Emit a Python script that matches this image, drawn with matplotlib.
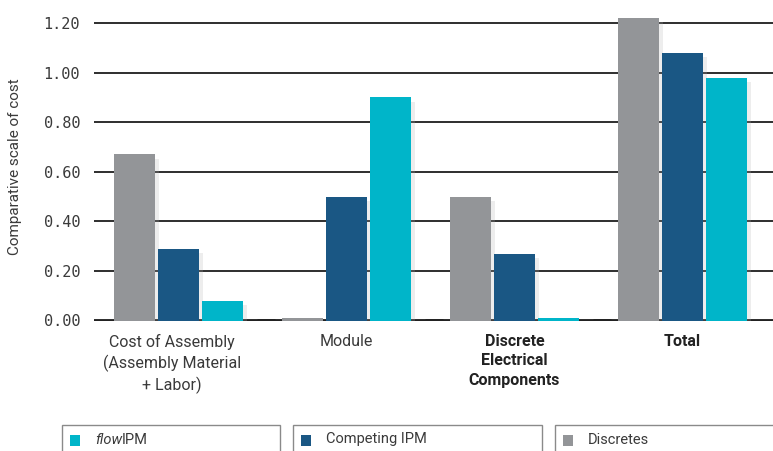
import matplotlib
matplotlib.use("Agg")
import matplotlib.pyplot as plt
import matplotlib.patheffects as pe
from matplotlib.patches import Rectangle
import numpy as np

categories = ["Cost of Assembly\n(Assembly Material\n+ Labor)", "Module",
              "Discrete\nElectrical\nComponents", "Total"]
bold_cats = [False, False, True, True]
series_names = ["Discretes", "Competing IPM", "flowIPM"]
discretes = [0.67, 0.01, 0.50, 1.22]
competing = [0.29, 0.50, 0.27, 1.08]
flowipm = [0.08, 0.90, 0.01, 0.98]
yticks = [0.0, 0.2, 0.4, 0.6, 0.8, 1.0, 1.2]
ytick_labels = ["0.00", "0.20", "0.40", "0.60", "0.80", "1.00", "1.20"]

GRAY = "#939598"
BLUE = "#1a5784"
CYAN = "#00b5c9"
TXT = "#3a3a3a"
colors = [GRAY, BLUE, CYAN]

FONT = ["Roboto", "DejaVu Sans"]
plt.rcParams["font.family"] = FONT

W, H = 773, 451
fig = plt.figure(figsize=(W / 100, H / 100), dpi=100)
ax_left, ax_right = 94, 773
y0_px, y12_px = 320.5, 23
ymax = 1.26
px_per_unit = (y0_px - y12_px) / 1.2
ax_h = px_per_unit * ymax
ax = fig.add_axes([ax_left / W, (H - y0_px) / H, (ax_right - ax_left) / W, ax_h / H])

spacing = 168.0
c0 = 178.5
xlim = ((ax_left - c0) / spacing, (ax_right - c0) / spacing)
ax.set_xlim(*xlim)
ax.set_ylim(0, ymax)

x = np.arange(len(categories))
bw = 41 / spacing
step = 44 / spacing

# gridlines
for yt in yticks[1:]:
    ax.axhline(yt, color="#1e1e1e", lw=1.3, zorder=1)
ax.hlines(0, xlim[0], (757 - c0) / spacing, color="#1e1e1e", lw=1.3, zorder=1)
# thick dark segments under each group
for xi in x:
    ax.hlines(0, xi - 1.5 * step - bw / 2 - 0.02, xi + 1.5 * step + bw / 2 + 0.06,
              color="#222222", lw=3.5, zorder=2)

shadow = [pe.SimplePatchShadow(offset=(3, -3), shadow_rgbFace="#b0b0b0", alpha=0.22), pe.Normal()]
for i, (vals, col) in enumerate(zip([discretes, competing, flowipm], colors)):
    bars = ax.bar(x + (i - 1) * step, vals, width=bw, color=col, zorder=3,
                  edgecolor="none")
    for b in bars:
        b.set_path_effects(shadow)

for s in ax.spines.values():
    s.set_visible(False)
ax.set_yticks(yticks)
ax.set_yticklabels(ytick_labels, fontsize=11, color=TXT, family=["DejaVu Sans Mono"])
ax.tick_params(axis="y", length=0, pad=10)
ax.set_xticks([])

for xi, lab, bold in zip(x, categories, bold_cats):
    ax.text(xi - (0.04 if xi == 0 else 0), -0.055, lab, ha="center", va="top",
            fontsize=11.5, color=TXT if not bold else "#222222",
            fontweight="bold" if bold else "normal", linespacing=1.35,
            transform=ax.transData)

fig.text(15 / W, 1 - 167 / H, "Comparative scale of cost", rotation=90,
         ha="center", va="center", fontsize=11, color=TXT)

# legend boxes
legend_items = [("flowIPM", CYAN, 62, 280), ("Competing IPM", BLUE, 293, 542),
                ("Discretes", GRAY, 555, 790)]
for name, col, xl, xr in legend_items:
    fig.patches.append(Rectangle((xl / W, (H - 460) / H), (xr - xl) / W, 35 / H,
                                 transform=fig.transFigure, facecolor="white",
                                 edgecolor="#8a8a8a", lw=1.0))
    fig.patches.append(Rectangle((70 / W + (xl - 62) / W, (H - 446) / H), 10 / W, 11 / H,
                                 transform=fig.transFigure, facecolor=col,
                                 edgecolor="none"))

fig.canvas.draw()
r = fig.canvas.get_renderer()
t1 = fig.text((95) / W, 1 - 439.5 / H, "flow", style="italic", fontsize=10.5,
              color=TXT, ha="left", va="center")
bb = t1.get_window_extent(renderer=r)
fig.text(bb.x1 / W, 1 - 439.5 / H, "IPM", fontsize=10.5, color=TXT, ha="left", va="center")
fig.text((293 + 33) / W, 1 - 439.5 / H, "Competing IPM", fontsize=10.5, color=TXT,
         ha="left", va="center")
fig.text((555 + 33) / W, 1 - 439.5 / H, "Discretes", fontsize=10.5, color=TXT,
         ha="left", va="center")

fig.savefig("out.png", dpi=100)
